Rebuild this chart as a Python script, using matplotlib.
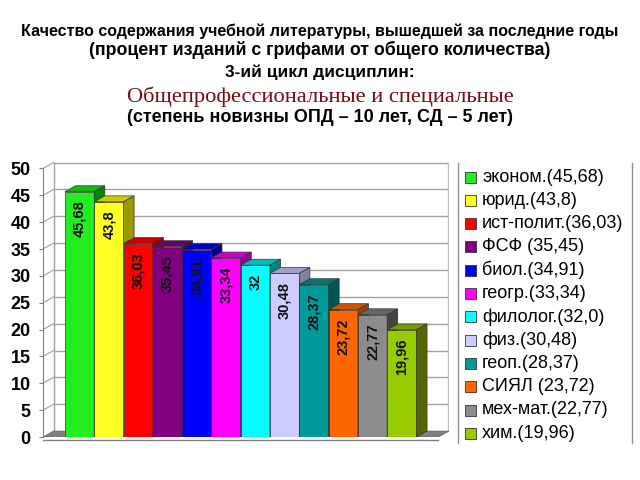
import matplotlib.pyplot as plt
from matplotlib.patches import Polygon, Rectangle

# data
names = ['эконом.(45,68)', 'юрид.(43,8)', 'ист-полит.(36,03)', 'ФСФ (35,45)',
         'биол.(34,91)', 'геогр.(33,34)', 'филолог.(32,0)', 'физ.(30,48)',
         'геоп.(28,37)', 'СИЯЛ (23,72)', 'мех-мат.(22,77)', 'хим.(19,96)']
values = [45.68, 43.8, 36.03, 35.45, 34.91, 33.34, 32.0, 30.48, 28.37, 23.72, 22.77, 19.96]
bar_labels = ['45,68', '43,8', '36,03', '35,45', '34,91', '33,34', '32', '30,48',
              '28,37', '23,72', '22,77', '19,96']
front = ['#22ee22', '#ffff22', '#ff0000', '#800080', '#0000ff', '#ff00ff',
         '#00ffff', '#ccccff', '#009999', '#ff6600', '#8c8c8c', '#99cc00']
top = ['#11bb11', '#cccc00', '#cc0000', '#660066', '#0000bb', '#cc00cc',
       '#00bbbb', '#a0a0cc', '#007777', '#cc5500', '#666666', '#779900']
side = ['#008800', '#999900', '#990000', '#440044', '#000088', '#990099',
        '#008888', '#8080a0', '#005555', '#994400', '#444444', '#556600']
yticks = [0, 5, 10, 15, 20, 25, 30, 35, 40, 45, 50]

plt.rcParams['font.family'] = ['Liberation Sans', 'DejaVu Sans']

fig = plt.figure(figsize=(6.4, 4.8), dpi=100)
ax = fig.add_axes([43 / 640, 1 - 437 / 480, 406 / 640, 277 / 480])

xl, xr = -1.25, 12.61
dx, dy = 0.36, 1.1
ax.set_xlim(xl, xr)
ax.set_ylim(0, 51.58)

# back wall, side wall and floor
for t in yticks[1:]:
    ax.plot([xl + dx, xr], [t + dy, t + dy], color='#a0a0a0', lw=1, zorder=1)
    ax.plot([xl, xl + dx], [t, t + dy], color='#a0a0a0', lw=0.8, zorder=1)
ax.plot([xl + dx, xl + dx], [dy, 50 + dy], color='#a0a0a0', lw=1, zorder=1)
ax.plot([xr - 0.02, xr - 0.02], [dy, 50 + dy], color='#c0c0c0', lw=1, zorder=1)
ax.add_patch(Polygon([(xl, 0), (xr - dx, 0), (xr, dy), (xl + dx, dy)],
                     closed=True, facecolor='#808080', edgecolor='#606060',
                     lw=0.5, zorder=2))

# bars with 3-D top and side faces
for i, v in enumerate(values):
    z = 3 + i
    ax.bar(i, v, width=1, color=front[i], edgecolor='#333333', lw=0.5, zorder=z)
    ax.add_patch(Polygon([(i - 0.5, v), (i + 0.5, v), (i + 0.5 + dx, v + dy),
                          (i - 0.5 + dx, v + dy)], closed=True,
                         facecolor=top[i], edgecolor='#333333', lw=0.5, zorder=z))
    ax.add_patch(Polygon([(i + 0.5, 0), (i + 0.5 + dx, dy), (i + 0.5 + dx, v + dy),
                          (i + 0.5, v)], closed=True,
                         facecolor=side[i], edgecolor='#333333', lw=0.5, zorder=z))
    ax.text(i, v - 1.6, bar_labels[i], rotation=90, ha='center', va='top',
            fontsize=10.5, fontweight='bold', color='#111111', zorder=z + 0.5)

for s in ['top', 'right', 'bottom']:
    ax.spines[s].set_visible(False)
ax.spines['left'].set_bounds(0, 50)
ax.spines['left'].set_color('#808080')
ax.plot([xl, xr - dx], [-0.5, -0.5], color='#808080', lw=1, clip_on=False)
ax.set_xticks([])
ax.set_yticks(yticks)
ax.tick_params(axis='y', length=3, color='#808080', pad=6, labelsize=13)
for lab in ax.get_yticklabels():
    lab.set_fontweight('bold')

# legend drawn by hand
y0 = 177
for i, name in enumerate(names):
    yc = 1 - (y0 + i * 23.3) / 480
    fig.patches.append(Rectangle((465 / 640, yc - 5.5 / 480), 11 / 640, 11 / 480,
                                 transform=fig.transFigure, facecolor=front[i],
                                 edgecolor='#333333', lw=0.6))
    fig.text(482 / 640, yc, name, fontsize=13, va='center', ha='left')
for xp in (458, 632):
    fig.add_artist(plt.Line2D([xp / 640, xp / 640], [1 - 163 / 480, 1 - 443 / 480],
                              color='#909090', lw=1))

# titles
fig.text(0.5, 1 - 31 / 480,
         'Качество содержания учебной литературы, вышедшей за последние годы',
         ha='center', va='center', fontsize=11.5, fontweight='bold')
fig.text(0.5, 1 - 50 / 480, '(процент изданий с грифами от общего количества)',
         ha='center', va='center', fontsize=12.8, fontweight='bold')
fig.text(0.5, 1 - 72 / 480, '3-ий цикл дисциплин:',
         ha='center', va='center', fontsize=12.5, fontweight='bold')
fig.text(0.5, 1 - 97 / 480, 'Общепрофессиональные и специальные',
         ha='center', va='center', fontsize=16.2, color='#7a0a1a',
         family='Liberation Serif')
fig.text(0.5, 1 - 118 / 480, '(степень новизны ОПД – 10 лет, СД – 5 лет)',
         ha='center', va='center', fontsize=13, fontweight='bold')

fig.savefig('out.png', dpi=100)
